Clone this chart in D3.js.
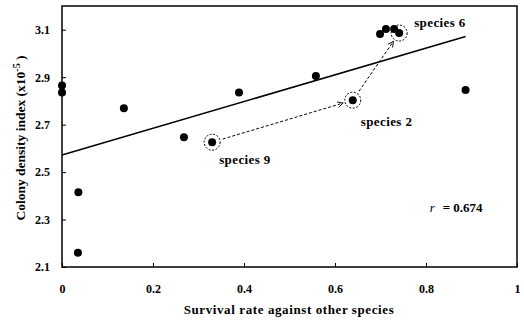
<!DOCTYPE html>
<html>
<head>
<meta charset="utf-8">
<script src="https://cdn.jsdelivr.net/npm/d3@7"></script>
<style>
  body { margin: 0; background: #fff; }
</style>
</head>
<body>
<div id="chart"></div>
<script>
// survival rate (x) and colony density index (y, x10^-5) for each species
const survival = [0.0, 0.0, 0.036, 0.035, 0.136, 0.268, 0.330, 0.389, 0.558, 0.639, 0.699, 0.712, 0.730, 0.741, 0.887];
const density  = [2.865, 2.835, 2.415, 2.160, 2.769, 2.647, 2.626, 2.835, 2.905, 2.803, 3.082, 3.103, 3.103, 3.086, 2.846];
const names    = ['', '', '', '', '', '', 'species 9', '', '', 'species 2', '', '', '', 'species 6', ''];

// fitted line
const fitRange = [0, 0.887];
const fitIntercept = 2.572;
const fitSlope = 0.563;
const rLabel = '0.674';

// highlighted path between species
const arrows = [['species 9', 'species 2'], ['species 2', 'species 6']];

const xTicks = [0, 0.2, 0.4, 0.6, 0.8, 1];
const xTickLabels = ['0', '0.2', '0.4', '0.6', '0.8', '1'];
const yTicks = [2.1, 2.3, 2.5, 2.7, 2.9, 3.1];

const FONT = '"Liberation Serif", "Times New Roman", serif';
const totalWidth = 524, totalHeight = 329;
const margins = {top: 6, left: 62, right: 7, bottom: 62};
const width = totalWidth - margins.left - margins.right;
const height = totalHeight - margins.top - margins.bottom;

const x = d3.scaleLinear().domain([0, 1]).range([0, width]);
const y = d3.scaleLinear().domain([2.1, 3.2]).range([height, 0]);

const svg = d3.select('#chart').append('svg')
  .attr('width', totalWidth)
  .attr('height', totalHeight)
  .style('font-family', FONT)
  .style('font-weight', 'bold');

svg.append('defs').append('marker')
  .attr('id', 'arrowhead')
  .attr('viewBox', '0 0 10 10')
  .attr('refX', 9).attr('refY', 5)
  .attr('markerWidth', 7).attr('markerHeight', 7)
  .attr('orient', 'auto')
  .append('path')
  .attr('d', 'M1,1 L9,5 L1,9')
  .style('fill', 'none')
  .style('stroke', '#000')
  .style('stroke-width', 1.2);

const g = svg.append('g')
  .attr('transform', 'translate(' + [margins.left, margins.top] + ')');

// axes with ticks pointing inward
const xAxis = d3.axisBottom(x).tickValues(xTicks).tickFormat((d, i) => xTickLabels[i])
  .tickSizeInner(-4).tickSizeOuter(0).tickPadding(17);
const yAxis = d3.axisLeft(y).tickValues(yTicks).tickFormat(d3.format('.1f'))
  .tickSizeInner(-4).tickSizeOuter(0).tickPadding(12);

const gx = g.append('g').attr('transform', 'translate(0,' + height + ')').call(xAxis);
const gy = g.append('g').call(yAxis);
[gx, gy].forEach(a => {
  a.attr('font-family', null).attr('font-size', null);
  a.select('.domain').remove();
  a.selectAll('line').style('stroke', '#000').style('stroke-width', 1);
  a.selectAll('text')
    .style('font-size', '12px')
    .style('font-family', FONT)
    .style('font-weight', 'bold')
    .style('fill', '#000');
});

// frame
g.append('rect')
  .attr('width', width)
  .attr('height', height)
  .style('fill', 'none')
  .style('stroke', '#000')
  .style('stroke-width', 1.5);

// regression line
g.append('line')
  .attr('x1', x(fitRange[0])).attr('y1', y(fitIntercept + fitSlope * fitRange[0]))
  .attr('x2', x(fitRange[1])).attr('y2', y(fitIntercept + fitSlope * fitRange[1]))
  .style('stroke', '#000')
  .style('stroke-width', 1.5);

const points = survival.map((s, i) => ({x: s, y: density[i], name: names[i]}));
const byName = {};
points.forEach(p => { if (p.name) byName[p.name] = p; });

// dashed arrows between highlighted species
const ringR = 8;
arrows.forEach(([from, to]) => {
  const a = byName[from], b = byName[to];
  const x1 = x(a.x), y1 = y(a.y), x2 = x(b.x), y2 = y(b.y);
  const len = Math.hypot(x2 - x1, y2 - y1);
  const ux = (x2 - x1) / len, uy = (y2 - y1) / len;
  g.append('line')
    .attr('x1', x1 + ux * (ringR + 3)).attr('y1', y1 + uy * (ringR + 3))
    .attr('x2', x2 - ux * (ringR + 2)).attr('y2', y2 - uy * (ringR + 2))
    .style('stroke', '#000')
    .style('stroke-width', 1)
    .style('stroke-dasharray', '3,2')
    .attr('marker-end', 'url(#arrowhead)');
});

// dashed rings
g.selectAll('circle.ring')
  .data(points.filter(p => p.name))
  .enter().append('circle')
  .attr('class', 'ring')
  .attr('cx', d => x(d.x)).attr('cy', d => y(d.y))
  .attr('r', ringR)
  .style('fill', 'none')
  .style('stroke', '#000')
  .style('stroke-width', 1)
  .style('stroke-dasharray', '2,1.5');

// points
g.selectAll('circle.dot')
  .data(points)
  .enter().append('circle')
  .attr('class', 'dot')
  .attr('cx', d => x(d.x)).attr('cy', d => y(d.y))
  .attr('r', 4)
  .style('fill', '#000');

// species labels
const labelOffset = {'species 9': [7, 22], 'species 2': [8, 26], 'species 6': [15, -6]};
g.selectAll('text.species')
  .data(points.filter(p => p.name))
  .enter().append('text')
  .attr('class', 'species')
  .attr('x', d => x(d.x) + labelOffset[d.name][0])
  .attr('y', d => y(d.y) + labelOffset[d.name][1])
  .style('font-size', '13px')
  .style('letter-spacing', '0.4px')
  .text(d => d.name);

// correlation coefficient
const rText = g.append('text')
  .attr('x', x(0.808))
  .attr('y', y(2.33))
  .style('font-size', '13px');
rText.append('tspan').style('font-style', 'italic').style('font-weight', 'normal').text('r');
rText.append('tspan').attr('dx', 8).text('= ' + rLabel);

// axis titles
svg.append('text')
  .attr('x', 289)
  .attr('y', 314)
  .attr('text-anchor', 'middle')
  .style('font-size', '13px')
  .style('letter-spacing', '0.6px')
  .text('Survival rate against other species');

const yTitle = svg.append('text')
  .attr('transform', 'translate(25,' + 138 + ') rotate(-90)')
  .attr('text-anchor', 'middle')
  .style('font-size', '13.5px');
yTitle.append('tspan').text('Colony density index (x10');
yTitle.append('tspan').attr('dy', -5).style('font-size', '10px').text('-5');
yTitle.append('tspan').attr('dy', 5).text(' )');
</script>
</body>
</html>
